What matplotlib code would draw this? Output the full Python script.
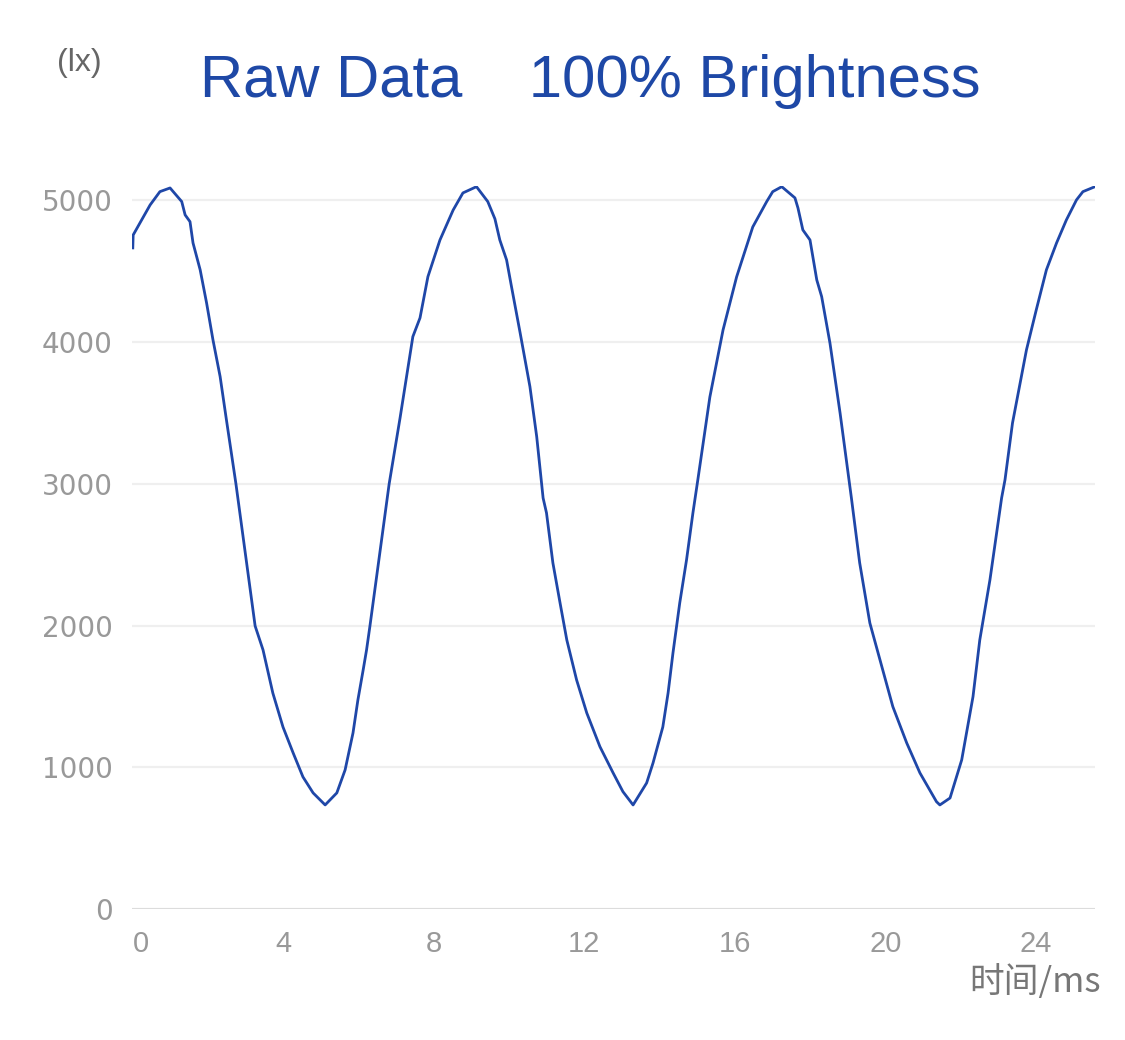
import matplotlib
matplotlib.use('Agg')
import matplotlib.pyplot as plt

# time (ms) and illuminance (lx)
time_ms = [0.01, 0.02, 0.20, 0.47, 0.73, 1.00, 1.31, 1.40, 1.53, 1.61, 1.80, 1.97,
           2.14, 2.33, 2.49, 2.75, 3.26, 3.47, 3.73, 4.00, 4.27, 4.53, 4.80, 5.12,
           5.43, 5.65, 5.86, 5.99, 6.13, 6.22, 6.31, 6.82, 7.11, 7.45, 7.64, 7.85,
           8.17, 8.52, 8.78, 9.14, 9.44, 9.63, 9.76, 9.94, 10.07, 10.30, 10.56, 10.74,
           10.91, 11.00, 11.17, 11.36, 11.54, 11.80, 12.07, 12.42, 12.77, 13.03, 13.30,
           13.66, 13.83, 14.09, 14.23, 14.36, 14.54, 14.72, 14.89, 15.02, 15.34, 15.69,
           16.05, 16.48, 16.85, 17.01, 17.25, 17.60, 17.68, 17.81, 18.00, 18.18, 18.31,
           18.53, 18.80, 19.10, 19.32, 19.59, 19.86, 20.20, 20.57, 20.92, 21.36, 21.45,
           21.72, 22.03, 22.33, 22.51, 22.78, 23.09, 23.18, 23.38, 23.75, 24.01, 24.28,
           24.55, 24.81, 25.08, 25.25, 25.57]
lux = [4665, 4756, 4841, 4968, 5062, 5088, 4992, 4898, 4850, 4700, 4510, 4277,
       4016, 3757, 3465, 3000, 1997, 1828, 1524, 1284, 1101, 932, 819, 734,
       819, 981, 1242, 1475, 1687, 1828, 1997, 2999, 3465, 4039, 4171, 4462,
       4721, 4932, 5053, 5097, 4992, 4870, 4721, 4580, 4392, 4065, 3686, 3333,
       2900, 2795, 2442, 2160, 1898, 1616, 1383, 1145, 960, 828, 734,
       889, 1030, 1284, 1524, 1807, 2160, 2463, 2795, 3028, 3613, 4086,
       4460, 4813, 4992, 5062, 5097, 5018, 4947, 4792, 4721, 4439, 4321,
       3994, 3498, 2900, 2442, 2018, 1757, 1428, 1171, 960, 757, 734,
       783, 1052, 1498, 1898, 2322, 2900, 3028, 3430, 3945, 4227, 4510,
       4700, 4862, 5004, 5062, 5097]

x_ticks = [0, 4, 8, 12, 16, 20, 24]
y_ticks = [0, 1000, 2000, 3000, 4000, 5000]
title = "Raw Data    100% Brightness"
line_color = '#1f47a8'

fig = plt.figure(figsize=(11.25, 10.4), dpi=100)
ax = fig.add_axes([0.1177, 0.126, 0.8556, 0.6949])

ax.plot(time_ms, lux, color=line_color, linewidth=2.0)
ax.set_xlim(0, 25.57)
ax.set_ylim(0, 5100)

for s in ax.spines.values():
    s.set_visible(False)
ax.set_yticks(y_ticks)
ax.set_xticks(x_ticks)
ax.grid(axis='y', color='#efefef', linewidth=1.6)
ax.set_axisbelow(True)
ax.axhline(0, color='#dcdcdc', linewidth=2.2, zorder=1)

ax.tick_params(axis='y', length=0, pad=14, labelsize=20, labelcolor='#999999')
ax.tick_params(axis='x', length=0, pad=15, labelsize=21, labelcolor='#999999')
for lab in ax.get_yticklabels():
    lab.set_family('DejaVu Sans')
for lab in ax.get_xticklabels():
    lab.set_family('Liberation Sans')
ax.get_xticklabels()[0].set_horizontalalignment('left')

fig.text(200 / 1125, 1 - 97 / 1040, title, fontsize=43, color='#1e48a6',
         family='Liberation Sans', ha='left', va='baseline')
fig.text(79 / 1125, 1 - 63 / 1040, '(lx)', fontsize=23, color='#666666',
         family='Liberation Sans', ha='center', va='center')
fig.text(1101 / 1125, 1 - 982 / 1040, '时间/ms', fontsize=25, color='#777777',
         family=['Noto Sans CJK SC', 'DejaVu Sans'], ha='right', va='center')

plt.savefig('out.png', dpi=100)
